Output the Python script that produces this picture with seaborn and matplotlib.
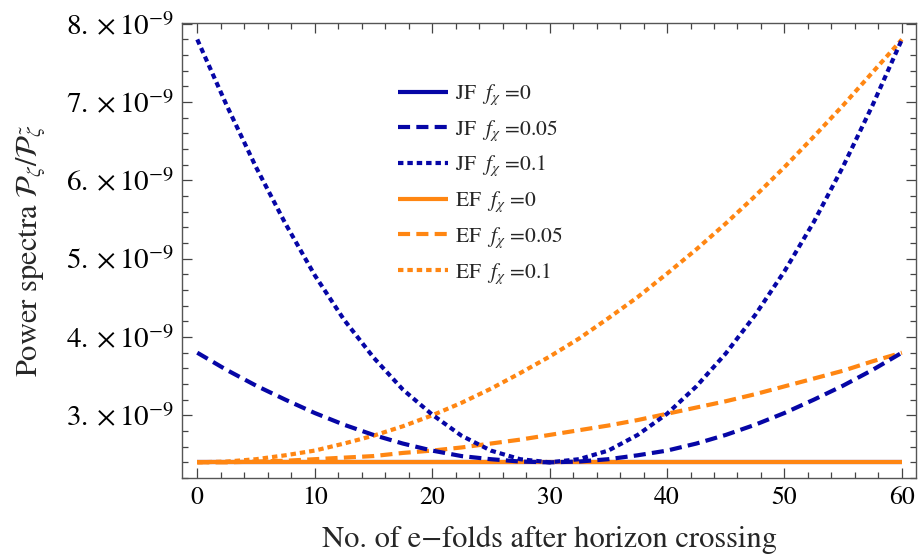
import numpy as np
import pandas as pd
import matplotlib
matplotlib.use("Agg")
import matplotlib.pyplot as plt
import seaborn as sns
from matplotlib.ticker import MultipleLocator, FuncFormatter
from matplotlib.lines import Line2D

# ---- data (power spectra in units of 1e-9) ----
efolds = [0, 2.5, 5, 7.5, 10, 12.5, 15, 17.5, 20, 22.5, 25, 27.5, 30,
          32.5, 35, 37.5, 40, 42.5, 45, 47.5, 50, 52.5, 55, 57.5, 60]

jf_f0 = [2.40, 2.40, 2.40, 2.40, 2.40, 2.40, 2.40, 2.40, 2.40, 2.40, 2.40, 2.40, 2.40,
         2.40, 2.40, 2.40, 2.40, 2.40, 2.40, 2.40, 2.40, 2.40, 2.40, 2.40, 2.40]
jf_f005 = [3.80, 3.58, 3.38, 3.20, 3.03, 2.88, 2.75, 2.64, 2.55, 2.48, 2.44, 2.41, 2.40,
           2.41, 2.44, 2.49, 2.55, 2.64, 2.75, 2.88, 3.03, 3.20, 3.38, 3.58, 3.80]
jf_f01 = [7.80, 6.96, 6.17, 5.45, 4.79, 4.22, 3.74, 3.33, 3.01, 2.74, 2.55, 2.44, 2.40,
          2.44, 2.55, 2.75, 3.02, 3.37, 3.79, 4.28, 4.84, 5.47, 6.18, 6.96, 7.80]
ef_f0 = [2.40, 2.40, 2.40, 2.40, 2.40, 2.40, 2.40, 2.40, 2.40, 2.40, 2.40, 2.40, 2.40,
         2.40, 2.40, 2.40, 2.40, 2.40, 2.40, 2.40, 2.40, 2.40, 2.40, 2.40, 2.40]
ef_f005 = [2.40, 2.40, 2.41, 2.42, 2.44, 2.46, 2.48, 2.52, 2.55, 2.59, 2.64, 2.69, 2.75,
           2.81, 2.87, 2.94, 3.02, 3.10, 3.18, 3.27, 3.37, 3.47, 3.57, 3.69, 3.80]
ef_f01 = [2.40, 2.41, 2.44, 2.49, 2.55, 2.64, 2.74, 2.86, 3.00, 3.16, 3.34, 3.54, 3.75,
          3.98, 4.24, 4.51, 4.81, 5.12, 5.45, 5.80, 6.17, 6.56, 6.96, 7.38, 7.80]

labels = [r"JF $\ f_\chi$ =0", r"JF $\ f_\chi$ =0.05", r"JF $\ f_\chi$ =0.1",
          r"EF $\ f_\chi$ =0", r"EF $\ f_\chi$ =0.05", r"EF $\ f_\chi$ =0.1"]
yticks = [3, 4, 5, 6, 7, 8]
xticks = [0, 10, 20, 30, 40, 50, 60]

SCALE = 1e-9
BLUE = "#0606A6"
ORANGE = "#FF8612"
LW = 3.0
SOLID = "-"
DASHED = (0, (2.9, 1.5))
DOTTED = (0, (1.3, 0.95))

sns.set_style("ticks")
plt.rcParams["font.family"] = ["STIXGeneral", "DejaVu Serif"]
plt.rcParams["mathtext.fontset"] = "stix"

fig = plt.figure(figsize=(9.18, 5.57), dpi=100)
ax = fig.add_axes([182 / 918, 1 - 478 / 557, (916 - 182) / 918, (478 - 23) / 557])

series = {
    labels[0]: (jf_f0, BLUE, SOLID),
    labels[1]: (jf_f005, BLUE, DASHED),
    labels[2]: (jf_f01, BLUE, DOTTED),
    labels[3]: (ef_f0, ORANGE, SOLID),
    labels[4]: (ef_f005, ORANGE, DASHED),
    labels[5]: (ef_f01, ORANGE, DOTTED),
}
draw_order = [labels[0], labels[3], labels[4], labels[5], labels[1], labels[2]]
for lab in draw_order:
    vals, col, ls = series[lab]
    df = pd.DataFrame({"N": efolds, "P": np.array(vals) * SCALE})
    sns.lineplot(data=df, x="N", y="P", ax=ax, color=col, linewidth=LW,
                 linestyle=ls, dash_capstyle="butt", solid_capstyle="butt",
                 legend=False)

ax.set_xlim(-1.3, 61.2)
ax.set_ylim(2.2e-9, 8.01e-9)
ax.set_xticks(xticks)
ax.set_yticks([v * SCALE for v in yticks])
ax.xaxis.set_minor_locator(MultipleLocator(2))
ax.yaxis.set_minor_locator(MultipleLocator(0.2e-9))
ax.yaxis.set_major_formatter(FuncFormatter(lambda v, p: rf"${v / SCALE:.0f}.\times 10^{{-9}}$"))
ax.xaxis.set_major_formatter(FuncFormatter(lambda v, p: f"{v:.0f}"))

ax.tick_params(which="both", direction="in", top=True, right=True, colors="#444444",
               labelcolor="black", width=0.9)
ax.tick_params(which="major", length=7, pad=6)
ax.tick_params(axis="x", which="major", labelsize=18.5)
ax.tick_params(axis="y", which="major", labelsize=21)
ax.tick_params(which="minor", length=4)
for s in ax.spines.values():
    s.set_color("#555555")
    s.set_linewidth(1.0)

ax.set_xlabel("No. of e\u2212folds after horizon crossing", fontsize=22, labelpad=11)
ax.set_ylabel(r"Power spectra $\mathcal{P}_\zeta/\mathcal{P}_{\tilde{\zeta}}$", fontsize=22, labelpad=13)

handles = [Line2D([0], [0], color=series[l][1], lw=LW, linestyle=series[l][2],
                  dash_capstyle="butt", solid_capstyle="butt") for l in labels]
ax.legend(handles, labels, loc="upper left", bbox_to_anchor=(0.283, 0.888),
          frameon=False, fontsize=15.5, handlelength=2.33, labelspacing=0.52,
          handletextpad=0.3, borderaxespad=0)

fig.savefig("out.png", dpi=100)
